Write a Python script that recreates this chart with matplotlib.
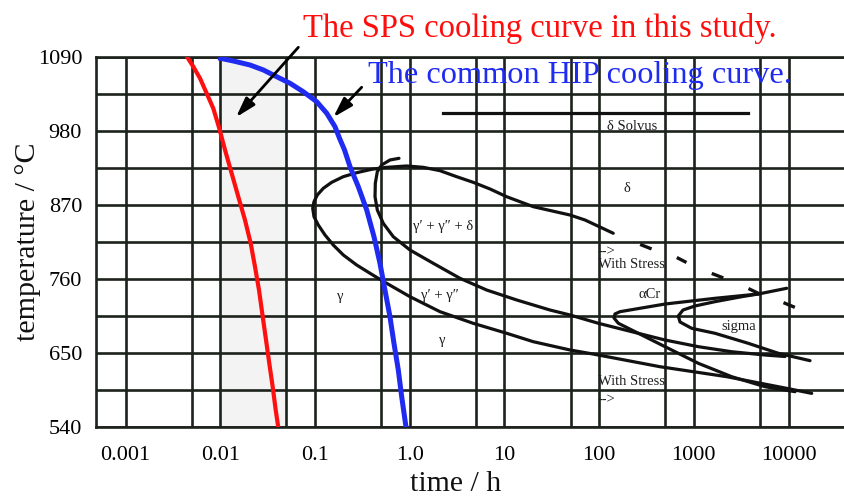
import numpy as np
import matplotlib
matplotlib.use("Agg")
import matplotlib.pyplot as plt
from matplotlib.ticker import FixedLocator, NullFormatter, FixedFormatter

SERIF = ["Liberation Serif", "DejaVu Serif"]
plt.rcParams["font.family"] = SERIF

# ---------------- data ----------------
x_major = [0.001, 0.01, 0.1, 1.0, 10, 100, 1000, 10000]
x_major_labels = ["0.001", "0.01", "0.1", "1.0", "10", "100", "1000", "10000"]
x_minor = [0.005, 0.05, 0.5, 5, 50, 500, 5000]
y_major = [540, 650, 760, 870, 980, 1090]
y_minor = [595, 705, 815, 925, 1035]
x_limits = [4.87e-4, 3.95e4]
y_limits = [540, 1090]

shade_span = [0.01, 0.05]

# SPS cooling curve (red)
sps_time = [0.00449, 0.00519, 0.00611, 0.00718, 0.00843, 0.00975, 0.01122, 0.01318,
            0.01549, 0.01823, 0.02094, 0.02324, 0.02563, 0.02805, 0.03040, 0.03291,
            0.03573, 0.03845, 0.0409]
sps_temp = [1089.6, 1075.6, 1058.3, 1036.0, 1013.7, 984.0, 951.8, 917.1,
            882.4, 847.7, 813.1, 778.4, 743.6, 704, 669.4, 634.7,
            600, 565.4, 540]

# HIP cooling curve (blue)
hip_time = [0.01009, 0.01371, 0.0206, 0.0285, 0.0394, 0.0545, 0.0752, 0.1042,
            0.133, 0.1626, 0.1815, 0.205, 0.2344, 0.2866, 0.3516, 0.4197,
            0.4853, 0.548, 0.619, 0.682, 0.758, 0.823, 0.914]
hip_temp = [1088, 1084.1, 1078.1, 1070.7, 1060.7, 1050.9, 1038.4, 1023.6,
            1006.4, 986.4, 969.2, 951.8, 926.9, 897.2, 862.6, 822.9,
            783.4, 743.6, 704, 664.5, 624.8, 585.0, 540]

# outer C-curve (delta / gamma'' start)
outer_time = [141, 71, 49.3, 20.2, 10.57, 7.05, 4.69, 3.13, 2.09, 1.393, 0.929,
              0.571, 0.397, 0.2755, 0.199, 0.150, 0.1224, 0.1058, 0.0976, 0.0946,
              0.0976, 0.1083, 0.1276, 0.156, 0.199, 0.2755, 0.381, 0.519,
              1.007, 2.09, 4.69, 10.57, 20.2, 49.3, 86.2, 440, 2225, 10370, 17580]
outer_temp = [828, 847.7, 855.1, 867.5, 882.3, 893.8, 903.7, 912.1, 921.0, 926.0, 928.0,
              926.0, 923.1, 918.0, 912.1, 903.7, 894.8, 884.9, 874.9, 865.1,
              852.6, 840.3, 825.4, 810.5, 795.7, 780.8, 768.5, 757.0,
              733.7, 711.4, 694.1, 679.3, 666.8, 654.5, 648.5, 629.6, 614.8, 596.5, 590]

# inner curve (gamma' + gamma'' + delta boundary)
inner_time = [0.771, 0.619, 0.506, 0.455, 0.4335, 0.4304, 0.455, 0.526, 0.671,
              1.007, 1.775, 3.40, 6.50, 13.49, 30.3, 49.3, 98.1, 221, 497, 1115,
              2512, 5650, 9190]
inner_temp = [939.4, 936.9, 929.5, 919.5, 902.3, 882.3, 862.6, 842.8, 822.9,
              803.1, 783.3, 761.0, 743.6, 728.8, 713.9, 706.5, 694.2, 681.7, 669.3,
              659.4, 651.9, 647.0, 644.8]

# alpha-Cr curve
acr_time = [9570, 4800, 1675, 497, 166, 147, 143.7, 159.6, 221, 497, 1115, 2512,
            5650, 11720]
acr_temp = [746.2, 737.7, 731.3, 722.8, 711.4, 708, 702, 694.2, 684.2, 659.4,
            634.7, 614.8, 599.9, 592.5]

# sigma curve
sigma_time = [4800, 3205, 1675, 1030, 769, 686, 715, 950, 1675, 3760, 7800, 16870]
sigma_temp = [737.7, 733.7, 726.3, 719.9, 713.9, 705.0, 696.1, 686.7, 679.3,
              664.4, 649.6, 638.6]

# "with stress" dashes (start/end of each dash)
dash_t0 = [281.8, 686, 1607, 3920, 9190]
dash_t1 = [345, 807, 1972, 4800, 11240]
dash_T0 = [810.5, 790.8, 767.4, 744.7, 723.9]
dash_T1 = [805.6, 785.7, 762.5, 738.7, 718.8]

# delta solvus
solvus_time = [2.25, 3741]
solvus_temp = [1007, 1007]

# region labels
region_text = ["\u03b4 Solvus", "\u03b4", "\u03b3\u2032 + \u03b3\u2033 + \u03b4", "\u03b3",
               "\u03b3\u2032 + \u03b3\u2033", "\u03b3", "\u03b1Cr", "sigma"]
region_t = [222, 195.5, 2.26, 0.187, 2.09, 2.23, 344.6, 3000]
region_T = [987.4, 894.8, 837.7, 733.7, 736.2, 669.3, 737.7, 690.1]

stress_text = ["-->", "With Stress", "With Stress", "-->"]
stress_t = [97.3, 97.3, 97.3, 97.3]
stress_T = [800.6, 781.8, 607.3, 581]

# arrows: (tail, head)
arrow_tail_t = [0.0667, 0.311]
arrow_tail_T = [1104.4, 1045]
arrow_head_t = [0.01465, 0.156]
arrow_head_T = [1000.4, 1000.4]

title_sps = "The SPS cooling curve in this study."
title_hip = "The common HIP cooling curve."
xlabel = "time / h"
ylabel = "temperature / \u00b0C"

# ---------------- figure ----------------
W, H = 845, 499
fig = plt.figure(figsize=(W / 100, H / 100), dpi=100)
ax = fig.add_axes([96 / W, 1 - 427 / H, (W - 96) / W, 370 / H])
ax.set_xscale("log")
ax.set_xlim(*x_limits)
ax.set_ylim(*y_limits)

grid_col = "#1c221c"
grid_lw = 1.9

ax.axvspan(shade_span[0], shade_span[1], color="#f3f3f3", zorder=0, lw=0)

ax.xaxis.set_major_locator(FixedLocator(x_major))
ax.xaxis.set_major_formatter(FixedFormatter(x_major_labels))
ax.xaxis.set_minor_locator(FixedLocator(x_minor))
ax.xaxis.set_minor_formatter(NullFormatter())
ax.yaxis.set_major_locator(FixedLocator(y_major))
ax.yaxis.set_minor_locator(FixedLocator(y_minor))
ax.grid(True, which="both", color=grid_col, lw=grid_lw, zorder=1.5)
ax.set_axisbelow(False)
for gl in ax.get_xgridlines() + ax.get_ygridlines():
    gl.set_zorder(1.5)
ax.tick_params(which="both", length=0)
ax.tick_params(axis="x", pad=14, labelsize=16)
ax.tick_params(axis="y", pad=10, labelsize=16)

for s in ["left", "bottom", "top"]:
    ax.spines[s].set_color(grid_col)
    ax.spines[s].set_linewidth(grid_lw)
ax.spines["right"].set_visible(False)

black = "#111111"
lw_b = 2.3
kw = dict(color=black, lw=lw_b, zorder=3, solid_capstyle="round", solid_joinstyle="round")
ax.plot(outer_time, outer_temp, **kw)
ax.plot(inner_time, inner_temp, **kw)
ax.plot(acr_time, acr_temp, **kw)
ax.plot(sigma_time, sigma_temp, **kw)
for t0, t1, T0, T1 in zip(dash_t0, dash_t1, dash_T0, dash_T1):
    ax.plot([t0, t1], [T0, T1], color=black, lw=2.4, zorder=3)
ax.plot(solvus_time, solvus_temp, color=black, lw=lw_b, zorder=3)

ax.plot(sps_time, sps_temp, color="#ff1010", lw=3.0, zorder=4,
        solid_joinstyle="round")
ax.plot(hip_time, hip_temp, color="#1f2bf0", lw=3.6, zorder=4,
        solid_joinstyle="round")

lab_col = "#1e1e1e"
for s, t, T in zip(region_text, region_t, region_T):
    ax.text(t, T, s, ha="center", va="center", fontsize=10.5, color=lab_col, zorder=5)
for s, t, T in zip(stress_text, stress_t, stress_T):
    ax.text(t, T, s, ha="left", va="center", fontsize=10.5, color=lab_col, zorder=5)

for tt, TT, ht, hT in zip(arrow_tail_t, arrow_tail_T, arrow_head_t, arrow_head_T):
    ax.annotate("", xy=(ht, hT), xytext=(tt, TT), annotation_clip=False,
                arrowprops=dict(arrowstyle="-|>,head_length=0.6,head_width=0.18",
                                mutation_scale=20, color="black", lw=2.0,
                                shrinkA=0, shrinkB=0), zorder=5)

fig.text(303 / W, 1 - 37 / H, title_sps, color="#ff0d0d", fontsize=23.5,
         ha="left", va="baseline")
fig.text(368 / W, 1 - 83 / H, title_hip, color="#1f2bf0", fontsize=23.3,
         ha="left", va="baseline", zorder=1)

fig.text(28 / W, 1 - 242 / H, ylabel, rotation=90, ha="center", va="center",
         fontsize=21.6, color="#111111")
fig.text(456 / W, 1 - 484 / H, xlabel, ha="center", va="center",
         fontsize=21.5, color="#111111")

fig.savefig("out.png", dpi=100)
